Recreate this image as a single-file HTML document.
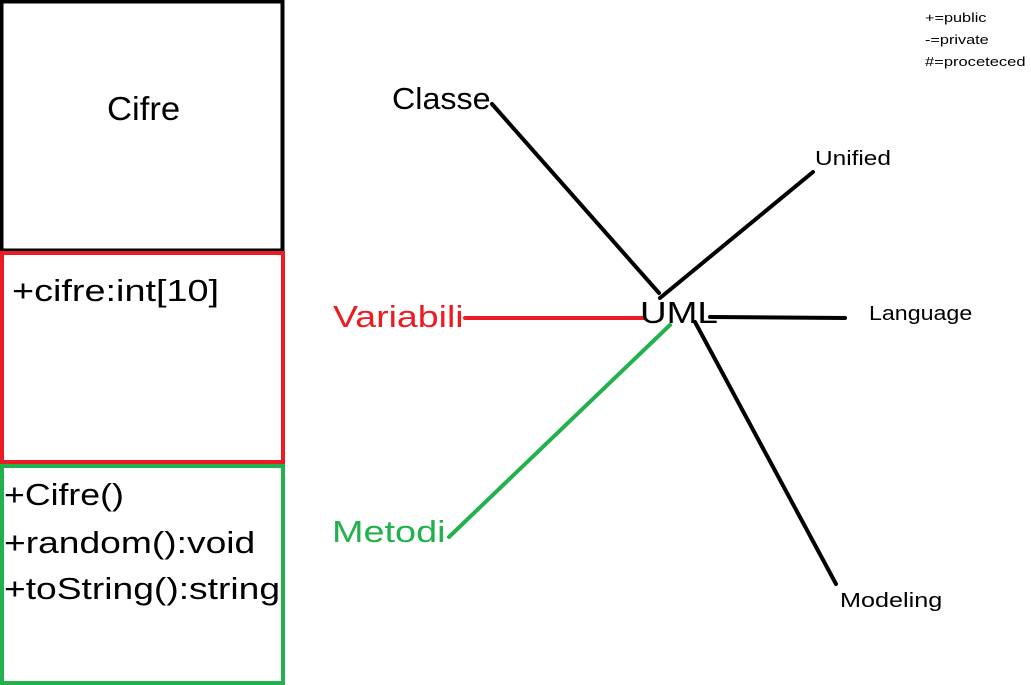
<!DOCTYPE html>
<html><head><style>
body{margin:0;width:1031px;height:685px;background:#fff;position:relative;overflow:hidden;font-family:"Liberation Sans",sans-serif}
.t{position:absolute;white-space:nowrap;line-height:1;transform-origin:0 50%}
</style></head><body>
<svg width="1031" height="685" style="position:absolute;left:0;top:0">
<rect x="1.5" y="1.5" width="281" height="249" fill="none" stroke="#000" stroke-width="4"/>
<rect x="2" y="253" width="281" height="209" fill="none" stroke="#ed1c24" stroke-width="4"/>
<rect x="2" y="466" width="281" height="217" fill="none" stroke="#22b14c" stroke-width="4"/>
<g stroke-width="4" stroke-linecap="round">
<line x1="492" y1="104" x2="659" y2="293" stroke="#000"/>
<line x1="813" y1="172" x2="660" y2="298" stroke="#000"/>
<line x1="710" y1="317" x2="845" y2="318" stroke="#000"/>
<line x1="695" y1="322" x2="836" y2="584" stroke="#000"/>
<line x1="465" y1="318" x2="643" y2="318" stroke="#ed1c24"/>
<line x1="670" y1="325" x2="449" y2="537" stroke="#22b14c"/>
</g>
</svg>
<div class="t" style="left:107px;top:92px;font-size:33px;transform:scaleX(1.05)">Cifre</div>
<div class="t" style="left:12px;top:275px;font-size:31px;transform:scaleX(1.22)">+cifre:int[10]</div>
<div class="t" style="left:4px;top:479px;font-size:31px;transform:scaleX(1.15)">+Cifre()</div>
<div class="t" style="left:4px;top:527px;font-size:31px;transform:scaleX(1.2)">+random():void</div>
<div class="t" style="left:4px;top:573px;font-size:31px;transform:scaleX(1.2)">+toString():string</div>
<div class="t" style="left:392px;top:83px;font-size:31px;transform:scaleX(1.04)">Classe</div>
<div class="t" style="left:333px;top:301px;font-size:31px;color:#ed1c24;transform:scaleX(1.21)">Variabili</div>
<div class="t" style="left:332px;top:516px;font-size:31px;color:#22b14c;transform:scaleX(1.22)">Metodi</div>
<div class="t" style="left:640px;top:297px;font-size:31px;transform:scaleX(1.19)">UML</div>
<div class="t" style="left:815px;top:149px;font-size:20px;transform:scaleX(1.22)">Unified</div>
<div class="t" style="left:869px;top:304px;font-size:20px;transform:scaleX(1.16)">Language</div>
<div class="t" style="left:840px;top:591px;font-size:20px;transform:scaleX(1.26)">Modeling</div>
<div class="t" style="left:925px;top:11px;font-size:13px;transform:scaleX(1.25)">+=public</div>
<div class="t" style="left:925px;top:33px;font-size:13px;transform:scaleX(1.25)">-=private</div>
<div class="t" style="left:925px;top:55px;font-size:13px;transform:scaleX(1.27)">#=proceteced</div>
</body></html>
